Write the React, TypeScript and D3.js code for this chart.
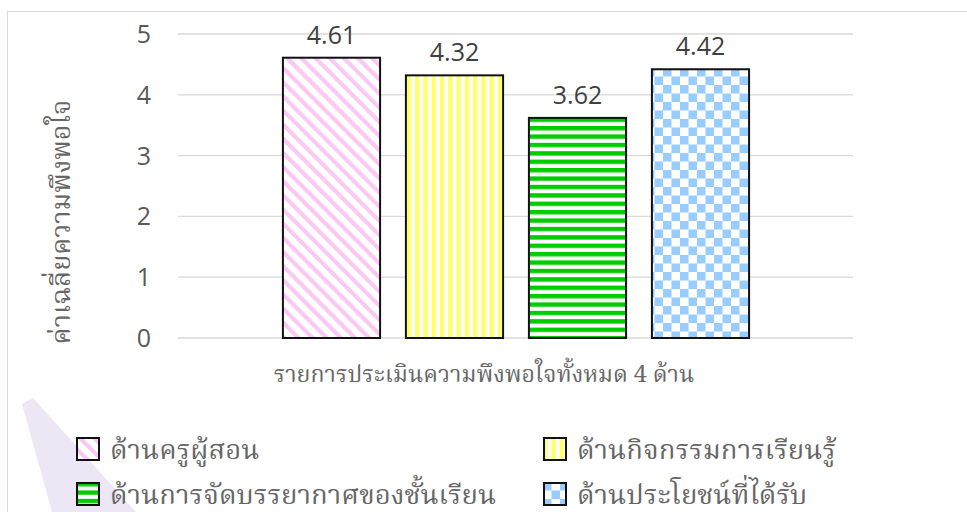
import * as d3 from "d3";
import { useEffect, useRef } from "react";

// data
const series = ["ด้านครูผู้สอน", "ด้านกิจกรรมการเรียนรู้", "ด้านการจัดบรรยากาศของชั้นเรียน", "ด้านประโยชน์ที่ได้รับ"];
const values = [4.61, 4.32, 3.62, 4.42];
const yTicks = [0, 1, 2, 3, 4, 5];
const patternIds = ["pDiag", "pVert", "pHoriz", "pCheck"];
const xTitle = "รายการประเมินความพึงพอใจทั้งหมด 4 ด้าน";
const yTitle = "ค่าเฉลี่ยความพึงพอใจ";

const thaiFont = '"Angsana New", "TH SarabunPSK", "Norasi", "Noto Serif Thai", "Noto Sans Thai", serif';
const numFont = '"Open Sans", "Noto Sans", sans-serif';

const App = () => {
    const svgRef = useRef<SVGSVGElement | null>(null);

    useEffect(() => {
        if (!svgRef.current) return;

        const width = 967;
        const height = 512;

        const svg = d3.select(svgRef.current)
            .attr("width", width)
            .attr("height", height)
            .style("position", "absolute")
            .style("left", "0px")
            .style("top", "0px")
            .style("background", "#ffffff");

        svg.selectAll("*").remove();

        // patterns
        const defs = svg.append("defs");

        const diag = defs.append("pattern")
            .attr("id", "pDiag")
            .attr("patternUnits", "userSpaceOnUse")
            .attr("width", 10).attr("height", 10)
            .attr("patternTransform", "rotate(-45)");
        diag.append("rect").attr("width", 10).attr("height", 10).attr("fill", "#ffffff");
        diag.append("rect").attr("width", 4.2).attr("height", 10).attr("fill", "#f9c9f4");

        const vert = defs.append("pattern")
            .attr("id", "pVert")
            .attr("patternUnits", "userSpaceOnUse")
            .attr("width", 8.3).attr("height", 8);
        vert.append("rect").attr("width", 8.3).attr("height", 8).attr("fill", "#ffffff");
        vert.append("rect").attr("width", 4.3).attr("height", 8).attr("fill", "#ffff66");

        const horiz = defs.append("pattern")
            .attr("id", "pHoriz")
            .attr("patternUnits", "userSpaceOnUse")
            .attr("width", 8).attr("height", 8.4);
        horiz.append("rect").attr("width", 8).attr("height", 8.4).attr("fill", "#ffffff");
        horiz.append("rect").attr("width", 8).attr("height", 4.4).attr("fill", "#00cc00");

        const check = defs.append("pattern")
            .attr("id", "pCheck")
            .attr("patternUnits", "userSpaceOnUse")
            .attr("width", 17).attr("height", 17);
        check.append("rect").attr("width", 17).attr("height", 17).attr("fill", "#ffffff");
        check.append("rect").attr("width", 8.5).attr("height", 8.5).attr("fill", "#99ccff");
        check.append("rect").attr("x", 8.5).attr("y", 8.5).attr("width", 8.5).attr("height", 8.5).attr("fill", "#99ccff");

        // watermark band
        svg.append("path")
            .attr("d", "M22,404 L33,398 L136,512 L52,512 Z")
            .attr("fill", "#ece6f5");

        // chart border
        svg.append("rect")
            .attr("x", 7.5).attr("y", 11.5)
            .attr("width", 1000).attr("height", 600)
            .attr("fill", "none")
            .attr("stroke", "#d9d9d9");

        // scales
        const y = d3.scaleLinear().domain([0, 5]).range([338, 34]);
        const x = d3.scaleBand<string>()
            .domain(series)
            .range([270, 762])
            .paddingInner(0.21)
            .paddingOuter(0.105);

        // gridlines + tick labels
        svg.append("g")
            .selectAll("line")
            .data(yTicks)
            .join("line")
            .attr("x1", 178).attr("x2", 853)
            .attr("y1", d => y(d)).attr("y2", d => y(d))
            .attr("stroke", "#d9d9d9")
            .attr("stroke-width", 1.3);

        svg.append("g")
            .selectAll("text")
            .data(yTicks)
            .join("text")
            .attr("x", 151)
            .attr("y", d => y(d))
            .attr("dy", "0.36em")
            .attr("text-anchor", "end")
            .attr("font-family", numFont)
            .attr("font-size", 25)
            .attr("fill", "#595959")
            .text(d => d);

        // bars
        svg.append("g")
            .selectAll("rect")
            .data(values)
            .join("rect")
            .attr("x", (_, i) => x(series[i])!)
            .attr("y", d => y(d))
            .attr("width", x.bandwidth())
            .attr("height", d => y(0) - y(d))
            .attr("fill", (_, i) => `url(#${patternIds[i]})`)
            .attr("stroke", "#111111")
            .attr("stroke-width", 2);

        // value labels
        svg.append("g")
            .selectAll("text")
            .data(values)
            .join("text")
            .attr("x", (_, i) => x(series[i])! + x.bandwidth() / 2)
            .attr("y", d => y(d) - 14)
            .attr("text-anchor", "middle")
            .attr("font-family", numFont)
            .attr("font-size", 25)
            .attr("fill", "#404040")
            .text(d => d.toFixed(2));

        // axis titles
        svg.append("text")
            .attr("x", 484)
            .attr("y", 382)
            .attr("text-anchor", "middle")
            .attr("font-family", thaiFont)
            .attr("font-size", 23.2)
            .attr("fill", "#666666")
            .text(xTitle);

        svg.append("text")
            .attr("transform", "translate(70,222) rotate(-90)")
            .attr("text-anchor", "middle")
            .attr("font-family", thaiFont)
            .attr("font-size", 27)
            .attr("fill", "#666666")
            .text(yTitle);

        // legend
        const legendPos = [
            { x: 76, y: 437 },
            { x: 543, y: 437 },
            { x: 76, y: 482 },
            { x: 543, y: 482 }
        ];
        const lg = svg.append("g")
            .selectAll("g")
            .data(series)
            .join("g")
            .attr("transform", (_, i) => `translate(${legendPos[i].x},${legendPos[i].y})`);
        lg.append("rect")
            .attr("x", 1).attr("y", 1)
            .attr("width", 22).attr("height", 22)
            .attr("fill", (_, i) => `url(#${patternIds[i]})`)
            .attr("stroke", "#111111")
            .attr("stroke-width", 2);
        lg.append("text")
            .attr("x", 34)
            .attr("y", 22)
            .attr("font-family", thaiFont)
            .attr("font-size", 27.5)
            .attr("fill", "#666666")
            .text(d => d);
    }, []);

    return <svg ref={svgRef}></svg>;
};

export default App;
